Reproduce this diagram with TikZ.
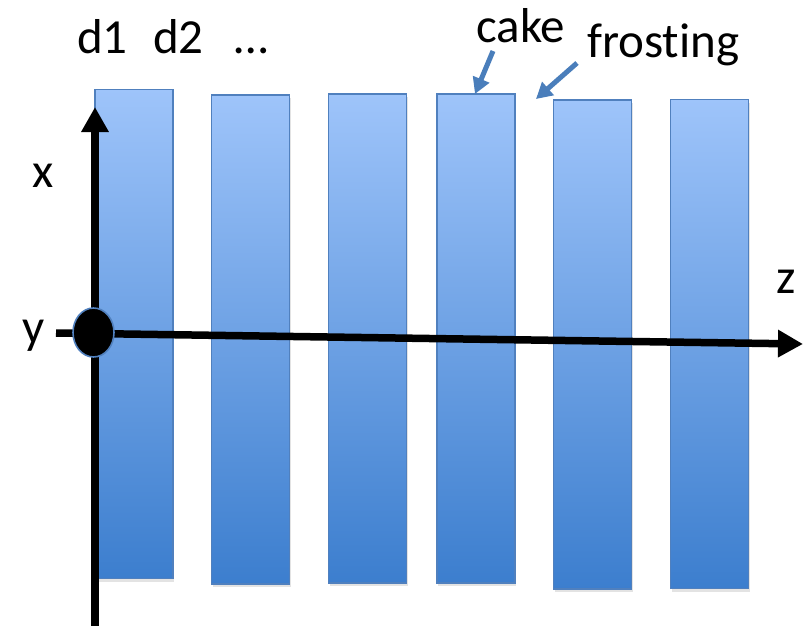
\documentclass[tikz,border=0pt]{standalone}
\usepackage{fontspec}
\setmainfont[Ligatures=NoCommon]{Carlito}
\usetikzlibrary{arrows.meta,shapes.geometric,shadows}

\definecolor{barTop}{RGB}{158,196,250}
\definecolor{barBottom}{RGB}{60,126,206}
\definecolor{barEdge}{RGB}{80,128,190}
\definecolor{pointer}{RGB}{74,126,187}

\tikzset{
  bar/.style={rectangle, draw=barEdge, line width=1.2pt,
    top color=barTop, bottom color=barBottom,
    minimum width=78pt, minimum height=489pt, inner sep=0pt,
    drop shadow={shadow xshift=1pt, shadow yshift=-3pt, opacity=0.22}},
  axis/.style={line width=7.5pt, draw=black,
    -{Triangle[length=25pt,width=26pt]}},
  pointerarrow/.style={line width=5pt, draw=pointer,
    -{Triangle[length=16pt,width=17pt]}},
  lbl/.style={font=\fontsize{49}{58}\selectfont, inner sep=0pt, anchor=base west},
}

\begin{document}
\begin{tikzpicture}[x=1pt,y=-1pt]
  \useasboundingbox (0,0) rectangle (808,626);

  % the stacked layers
  \node[bar] (b1) at (134,334)   {};
  \node[bar] (b2) at (250.5,339.5) {};
  \node[bar] (b3) at (367.5,338.5) {};
  \node[bar] (b4) at (476,338.5) {};
  \node[bar] (b5) at (592.5,344.5) {};
  \node[bar] (b6) at (709.5,344) {};

  % axis ends
  \coordinate (xfoot) at (95,628);
  \coordinate (xtip)  at (95,107);
  \coordinate (zstart) at (56,333);
  \coordinate (ztip)   at (803,344);

  \draw[axis] (xfoot) -- (xtip);
  \draw[axis] (zstart) -- (ztip);

  % y axis pointing out of the page
  \node[ellipse, fill=black, draw=barEdge, line width=1.6pt,
        minimum width=41pt, minimum height=49pt, inner sep=0pt] (origin) at (93.5,332.5) {};

  % axis labels
  \node[lbl] (xl) at (32,187) {x};
  \node[lbl] (yl) at (22,343) {y};
  \node[lbl] (zl) at (776,293) {z};

  % layer labels
  \node[lbl] (d1) at (77,53)  {d1};
  \node[lbl] (d2) at (153,53) {d2};
  \node[lbl] (dots) at (234,53) {\dots};

  % cake and frosting (kern keeps t and i apart)
  \node[lbl] (cake) at (476,43) {cake};
  \node[lbl] (frost) at (587,58) {frost\kern0pt ing};
  \coordinate (cakefrom) at (493,51);
  \coordinate (frostfrom) at (577,63);
  \coordinate (caketo) at (475,94);
  \coordinate (frostto) at (536,99);
  \draw[pointerarrow] (cakefrom) -- (caketo);
  \draw[pointerarrow] (frostfrom) -- (frostto);
\end{tikzpicture}
\end{document}
